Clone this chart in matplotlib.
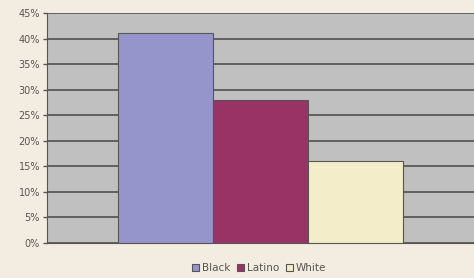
import matplotlib.pyplot as plt
from matplotlib.ticker import PercentFormatter

# data
groups = ["Black", "Latino", "White"]
values = [41, 28, 16]
colors = ["#9595cb", "#993366", "#f3edca"]
yticks = list(range(0, 50, 5))

fig = plt.figure(figsize=(4.74, 2.78), dpi=100)
fig.patch.set_facecolor("#f3ece0")

# plot area: x 47..474, y 13..243 pixels
ax = fig.add_axes([47 / 474, 1 - 243 / 278, 427 / 474, 230 / 278])
ax.set_facecolor("#c0c0c0")

for i, (g, v, c) in enumerate(zip(groups, values, colors)):
    ax.bar(i, v, width=1.0, color=c, edgecolor="#555555", linewidth=0.8,
           label=g, zorder=3)

ax.set_xlim(-1.247, 3.243)
ax.set_ylim(0, 45)
ax.set_yticks(yticks)
ax.yaxis.set_major_formatter(PercentFormatter(decimals=0))
ax.yaxis.grid(True, color="#505050", linewidth=1.2, zorder=1)
ax.set_xticks([])
ax.tick_params(axis="y", labelsize=7, colors="#555555", length=3,
               width=1, pad=2)

for s in ["top", "right"]:
    ax.spines[s].set_visible(False)
ax.spines["left"].set_color("#555555")
ax.spines["bottom"].set_color("#555555")

fig.legend(loc="center", bbox_to_anchor=(259 / 474, 1 - 268 / 278),
           ncol=3, frameon=False, fontsize=7.5, handlelength=0.7,
           handleheight=0.7, handletextpad=0.3, columnspacing=0.6,
           labelcolor="#555555")

fig.savefig("out.png", dpi=100, facecolor=fig.get_facecolor())
